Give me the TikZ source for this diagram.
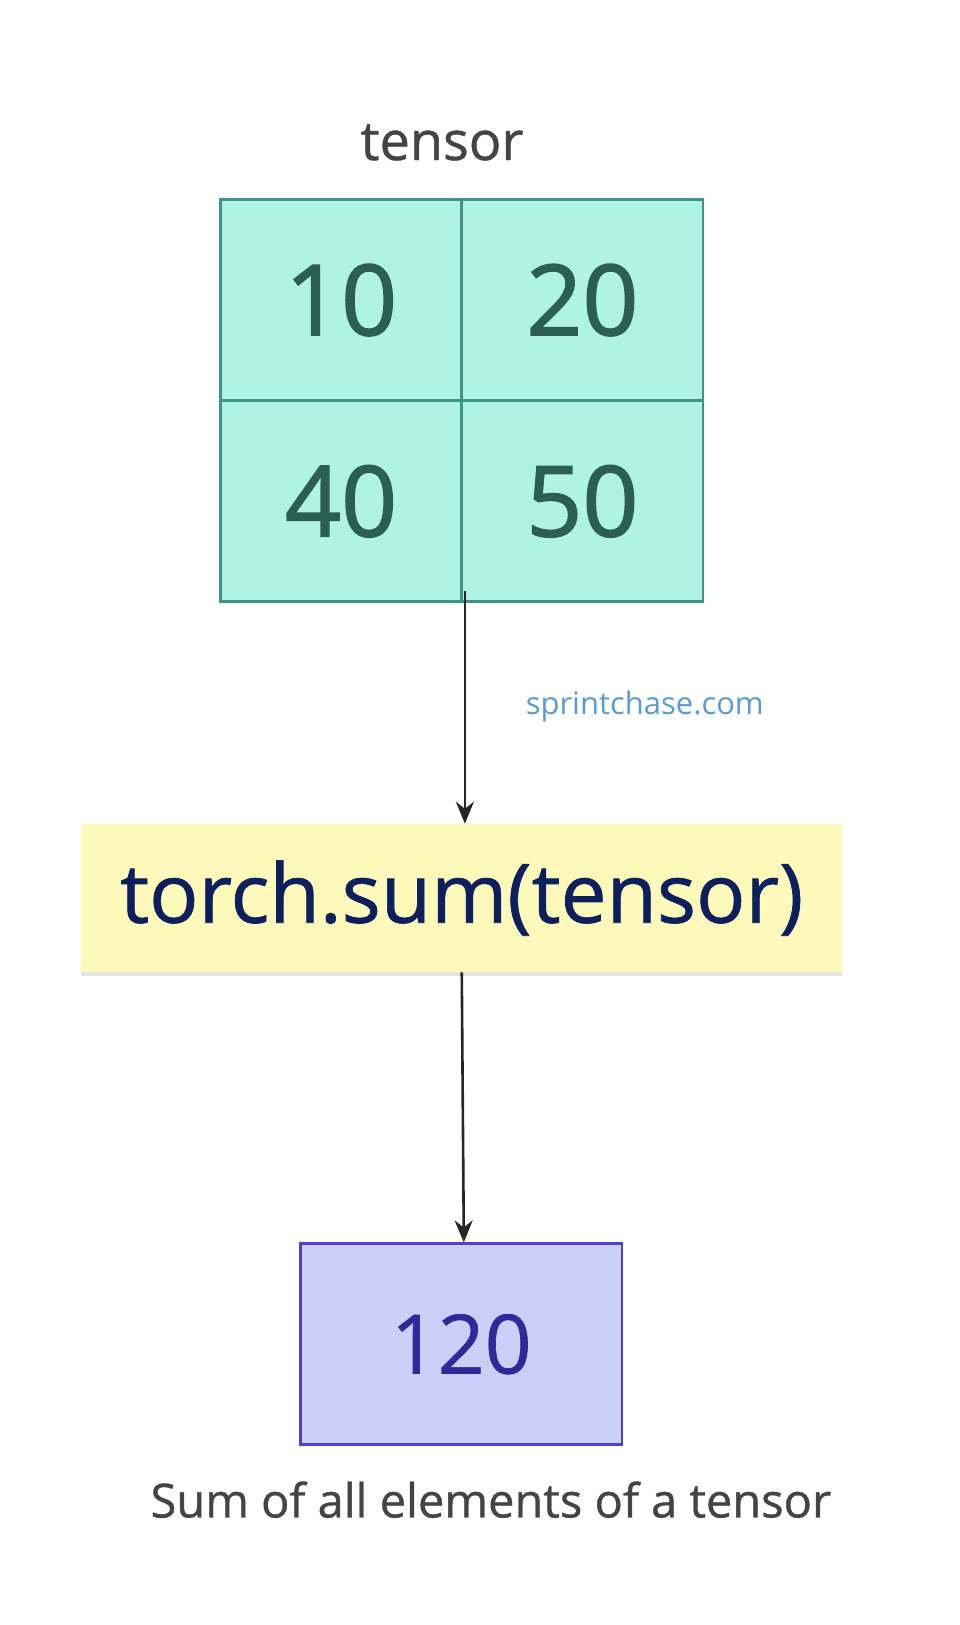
\documentclass[tikz,border=0pt]{standalone}
\usepackage{fontspec}
\setmainfont{Open Sans}
\newfontfamily\semib[FakeBold=1.6]{Open Sans}
\newfontfamily\medf[FakeBold=0.8]{Open Sans}
\usetikzlibrary{arrows.meta,shadows}
\definecolor{cellfill}{HTML}{AEF3E4}
\definecolor{celldraw}{HTML}{3E9485}
\definecolor{celltext}{HTML}{2D5E55}
\definecolor{yfill}{HTML}{FCF9BB}
\definecolor{ytext}{HTML}{0D1F5C}
\definecolor{bfill}{HTML}{C8D0F8}
\definecolor{bdraw}{HTML}{4F3FD8}
\definecolor{btext}{HTML}{2E2A9C}
\definecolor{gtext}{HTML}{444444}
\definecolor{link}{HTML}{5B9BD5}
\tikzset{
 cell/.style={draw=celldraw,line width=1.4pt,fill=cellfill,minimum width=120.6pt,minimum height=100.4pt,inner sep=0pt,text=celltext,font=\semib\fontsize{49}{56}\selectfont},
 arr/.style={-{Stealth[length=11pt,width=9pt]},line width=1.3pt,black!85}
}
\begin{document}
\begin{tikzpicture}[x=0.52pt,y=-0.52pt]
\useasboundingbox[fill=white] (0,0) rectangle (923,1562.5);
\node[font=\medf\fontsize{27}{32}\selectfont,text=gtext] (title) at (425,137) {tensor};
\node[cell] (c1) at (328,288.5) {10};
\node[cell] (c2) at (560,288.5) {20};
\node[cell] (c3) at (328,482) {40};
\node[cell] (c4) at (560,482) {50};
\node[fill=yfill,minimum width=380.6pt,minimum height=74.4pt,drop shadow={shadow xshift=0pt,shadow yshift=-2pt,opacity=0.2},text=ytext,font=\medf\fontsize{41}{48}\selectfont] (op) at (444,863.5) {torch.sum(tensor)};
\node[text=link,font=\fontsize{15.5}{18}\selectfont] (url) at (620,679) {sprintchase.com};
\node[draw=bdraw,line width=1.4pt,fill=bfill,minimum width=160.7pt,minimum height=100.4pt,text=btext,font=\medf\fontsize{41}{48}\selectfont] (res) at (443.5,1292.5) {120};
\node[font=\medf\fontsize{23.5}{28}\selectfont,text=gtext] (cap) at (472,1442) {Sum of all elements of a tensor};
\coordinate (s1) at (447,568);
\draw[arr] (s1) -- (447,792);
\draw[arr] (444,935) -- (res.north -| 446,0);
\end{tikzpicture}
\end{document}
